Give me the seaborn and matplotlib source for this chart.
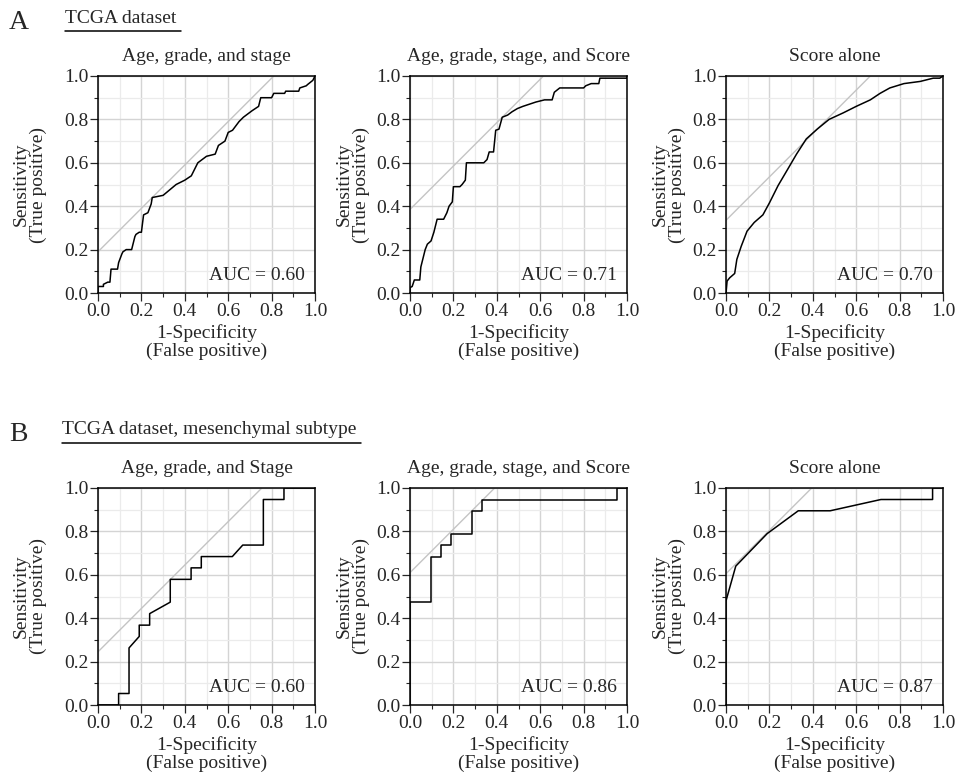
import matplotlib
matplotlib.use("Agg")
import matplotlib.pyplot as plt
from matplotlib.ticker import MultipleLocator, FormatStrFormatter
import seaborn as sns
import pandas as pd

# ---- data ----
header_a = "TCGA dataset"
header_b = "TCGA dataset, mesenchymal subtype"
titles = ["Age, grade, and stage", "Age, grade, stage, and Score", "Score alone",
          "Age, grade, and Stage", "Age, grade, stage, and Score", "Score alone"]
auc_values = ["0.60", "0.71", "0.70", "0.60", "0.86", "0.87"]
# intercept of the grey 45-degree line drawn in each panel
ref_intercepts = [0.19, 0.385, 0.335, 0.245, 0.61, 0.605]

a1_fpr = [0.0, 0.0, 0.025, 0.025, 0.045, 0.055, 0.06, 0.09, 0.095, 0.11, 0.115, 0.13,
          0.155, 0.17, 0.175, 0.19, 0.2, 0.21, 0.23, 0.245, 0.25, 0.30, 0.36, 0.40,
          0.43, 0.45, 0.46, 0.50, 0.54, 0.555, 0.585, 0.60, 0.62, 0.65, 0.67, 0.71,
          0.74, 0.75, 0.80, 0.81, 0.86, 0.865, 0.925, 0.93, 0.96, 0.965, 0.99, 1.0]
a1_tpr = [0.0, 0.03, 0.03, 0.04, 0.05, 0.05, 0.11, 0.11, 0.14, 0.18, 0.19, 0.20,
          0.20, 0.26, 0.27, 0.28, 0.28, 0.36, 0.37, 0.41, 0.44, 0.45, 0.50, 0.52,
          0.54, 0.58, 0.60, 0.63, 0.64, 0.68, 0.70, 0.74, 0.75, 0.79, 0.81, 0.84,
          0.86, 0.90, 0.90, 0.92, 0.92, 0.93, 0.93, 0.945, 0.955, 0.96, 0.98, 1.0]

a2_fpr = [0.0, 0.0, 0.01, 0.02, 0.045, 0.05, 0.06, 0.07, 0.08, 0.097, 0.11, 0.125,
          0.155, 0.17, 0.18, 0.195, 0.20, 0.23, 0.24, 0.255, 0.26, 0.34, 0.355, 0.365,
          0.385, 0.395, 0.41, 0.425, 0.45, 0.47, 0.495, 0.52, 0.55, 0.58, 0.62, 0.655,
          0.665, 0.69, 0.80, 0.81, 0.835, 0.87, 0.875, 1.0, 1.0]
a2_tpr = [0.0, 0.025, 0.03, 0.06, 0.06, 0.12, 0.16, 0.20, 0.225, 0.24, 0.28, 0.34,
          0.34, 0.37, 0.40, 0.42, 0.49, 0.49, 0.50, 0.52, 0.60, 0.60, 0.615, 0.65,
          0.65, 0.75, 0.755, 0.81, 0.82, 0.835, 0.85, 0.86, 0.87, 0.88, 0.89, 0.89,
          0.925, 0.945, 0.945, 0.955, 0.965, 0.965, 0.99, 0.99, 1.0]

a3_fpr = [0.0, 0.005, 0.017, 0.04, 0.05, 0.07, 0.097, 0.13, 0.17, 0.20, 0.24, 0.29,
          0.325, 0.37, 0.42, 0.475, 0.54, 0.60, 0.665, 0.71, 0.755, 0.82, 0.895, 0.955,
          0.985, 1.0]
a3_tpr = [0.0, 0.055, 0.07, 0.09, 0.155, 0.215, 0.285, 0.325, 0.36, 0.415, 0.495, 0.58,
          0.64, 0.71, 0.755, 0.80, 0.83, 0.86, 0.89, 0.92, 0.945, 0.965, 0.975, 0.99,
          0.99, 1.0]

b1_fpr = [0.0, 0.095, 0.095, 0.143, 0.143, 0.19, 0.19, 0.238, 0.238, 0.333, 0.333,
          0.429, 0.429, 0.476, 0.476, 0.619, 0.667, 0.762, 0.762, 0.857, 0.857, 1.0]
b1_tpr = [0.0, 0.0, 0.053, 0.053, 0.263, 0.316, 0.368, 0.368, 0.421, 0.474, 0.579,
          0.579, 0.632, 0.632, 0.684, 0.684, 0.737, 0.737, 0.947, 0.947, 1.0, 1.0]

b2_fpr = [0.0, 0.0, 0.095, 0.095, 0.143, 0.143, 0.19, 0.19, 0.286, 0.286, 0.333,
          0.333, 0.955, 0.955, 1.0]
b2_tpr = [0.0, 0.474, 0.474, 0.684, 0.684, 0.737, 0.737, 0.79, 0.79, 0.895, 0.895,
          0.947, 0.947, 1.0, 1.0]

b3_fpr = [0.0, 0.0, 0.045, 0.19, 0.333, 0.48, 0.714, 0.952, 0.952, 1.0]
b3_tpr = [0.0, 0.48, 0.64, 0.79, 0.895, 0.895, 0.947, 0.947, 1.0, 1.0]

curves = [(a1_fpr, a1_tpr), (a2_fpr, a2_tpr), (a3_fpr, a3_tpr),
          (b1_fpr, b1_tpr), (b2_fpr, b2_tpr), (b3_fpr, b3_tpr)]

# ---- style ----
sns.set_style("white")
plt.rcParams['font.family'] = ['Liberation Serif', 'DejaVu Serif']
plt.rcParams['font.size'] = 14

W, H = 958, 779
fig = plt.figure(figsize=(W / 100, H / 100), dpi=100)

lefts = [98, 410, 726]
tops = [76, 488]
size = 217

for i, (fpr, tpr) in enumerate(curves):
    row, col = divmod(i, 3)
    ax = fig.add_axes([lefts[col] / W, 1 - (tops[row] + size) / H, size / W, size / H])

    # grid
    ax.xaxis.set_major_locator(MultipleLocator(0.2))
    ax.yaxis.set_major_locator(MultipleLocator(0.2))
    ax.xaxis.set_minor_locator(MultipleLocator(0.1))
    ax.yaxis.set_minor_locator(MultipleLocator(0.1))
    ax.xaxis.set_major_formatter(FormatStrFormatter('%.1f'))
    ax.yaxis.set_major_formatter(FormatStrFormatter('%.1f'))
    ax.grid(which='major', color='#d4d4d4', lw=1.0)
    ax.grid(which='minor', color='#ebebeb', lw=0.9)
    ax.set_axisbelow(True)

    # grey tangent line
    b = ref_intercepts[i]
    ref = pd.DataFrame({'x': [0.0, 1 - b], 'y': [b, 1.0]})
    sns.lineplot(data=ref, x='x', y='y', ax=ax, color='#c4c4c4', lw=1.0,
                 sort=False, estimator=None)

    df = pd.DataFrame({'fpr': fpr, 'tpr': tpr})
    sns.lineplot(data=df, x='fpr', y='tpr', ax=ax, color='black', lw=1.1,
                 sort=False, estimator=None)

    ax.set_xlim(0, 1)
    ax.set_ylim(0, 1)
    ax.tick_params(which='major', direction='out', length=6, width=0.9, pad=1,
                   labelsize=14, bottom=True, left=True)
    ax.tick_params(which='minor', direction='out', length=3, width=0.8,
                   bottom=True, left=True)
    for s in ax.spines.values():
        s.set_color('black')
        s.set_linewidth(1.1)

    ax.set_title(titles[i], fontsize=14, pad=11)
    ax.set_xlabel("1-Specificity\n(False positive)", fontsize=14, linespacing=1.1, labelpad=3)
    ax.set_ylabel("Sensitivity\n(True positive)", fontsize=14, linespacing=1.0,
                  labelpad=12 if col == 0 else 4)
    ax.text(0.955, 0.06, "AUC = " + auc_values[i], ha='right', va='baseline',
            fontsize=14, transform=ax.transData)

# panel letters and headers
fig.text(9 / W, 1 - 29 / H, "A", fontsize=20, va='baseline')
fig.text(9 / W, 1 - 441 / H, "B", fontsize=20, va='baseline')
ha_txt = fig.text(65 / W, 1 - 22.7 / H, header_a, fontsize=14, va='baseline')
hb_txt = fig.text(62 / W, 1 - 434 / H, header_b, fontsize=14, va='baseline')

fig.canvas.draw()
r = fig.canvas.get_renderer()
for t, y in [(ha_txt, 31), (hb_txt, 442.5)]:
    bb = t.get_window_extent(r)
    x0, x1 = bb.x0 / W, (bb.x1 + 5) / W
    fig.add_artist(plt.Line2D([x0, x1], [1 - y / H, 1 - y / H], color='black',
                              lw=1.1, transform=fig.transFigure))

fig.savefig("out.png", dpi=100)
